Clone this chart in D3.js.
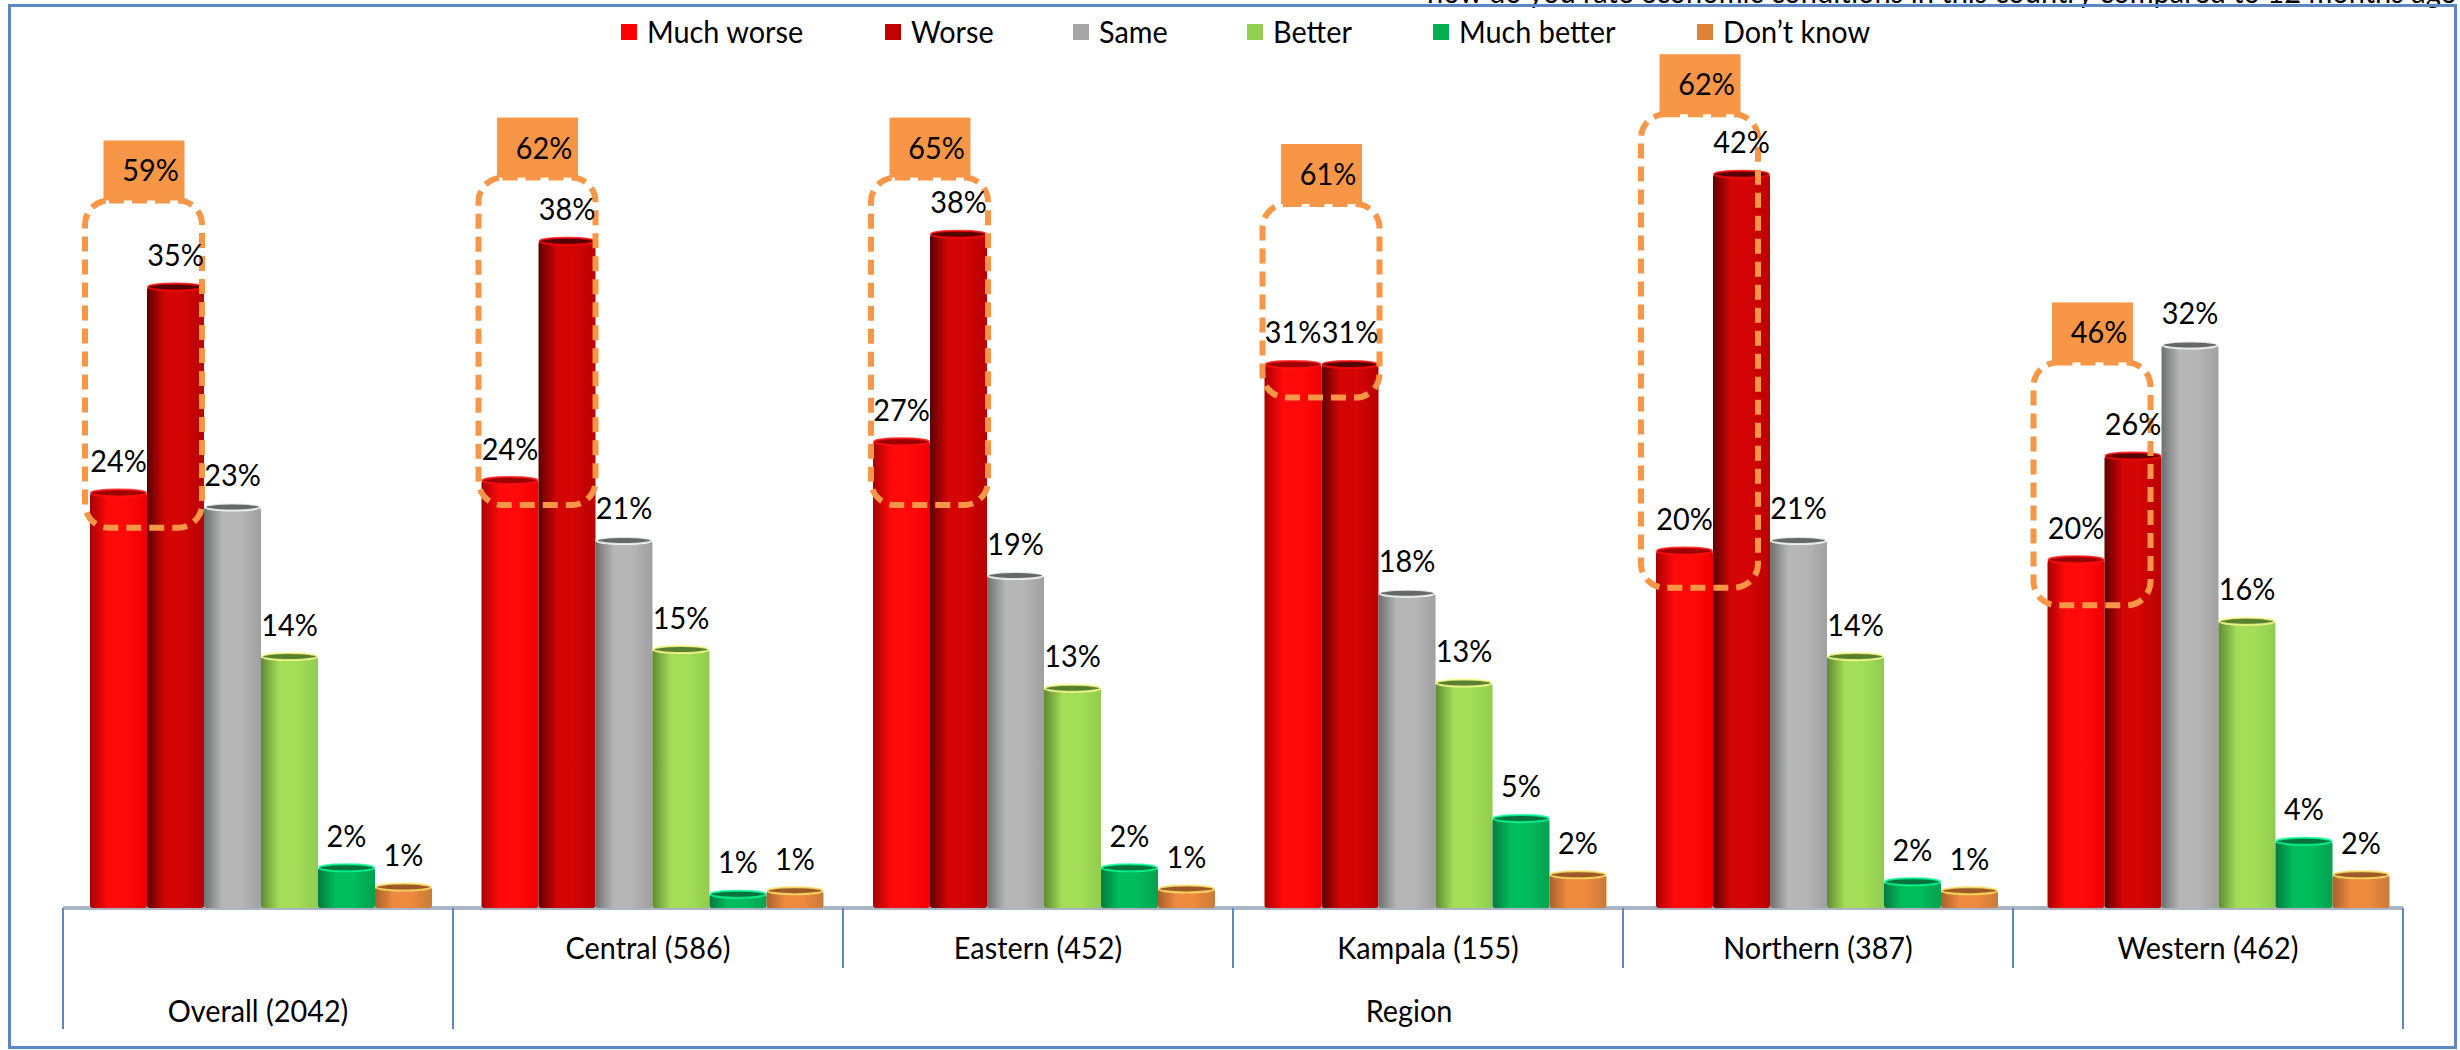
<!DOCTYPE html>
<html lang="en">
<head>
<meta charset="UTF-8">
<title>Economic conditions by region</title>
<script src="https://d3js.org/d3.v7.min.js"></script>
<style>
  html, body { margin: 0; padding: 0; background: #fff; overflow: hidden; }
  svg { display: block; }
  text { font-family: Lato, "Open Sans", sans-serif; font-size: 31px; fill: #000; }
</style>
</head>
<body>
<svg id="chart" width="2460" height="1050"></svg>
<script>
const categories = ["Overall (2042)", "Central (586)", "Eastern (452)", "Kampala (155)", "Northern (387)", "Western (462)"];
const seriesNames = ["Much worse", "Worse", "Same", "Better", "Much better", "Don\u2019t know"];

// one list per series, in category order (bar heights)
const muchWorse = [23.7, 24.4, 26.6, 31.0, 20.4, 19.9];
const worse = [35.4, 38.0, 38.4, 31.0, 41.8, 25.8];
const same = [22.9, 21.0, 19.0, 18.0, 21.0, 32.1];
const better = [14.4, 14.8, 12.6, 12.9, 14.4, 16.4];
const muchBetter = [2.4, 0.9, 2.4, 5.2, 1.6, 3.9];
const dontKnow = [1.3, 1.1, 1.2, 2.0, 1.1, 2.0];

// the orange "worse" totals and how far their dashed outlines reach on the y scale
const totals = ["59%", "62%", "65%", "61%", "62%", "46%"];
const outlineLow = [21.6, 22.9, 22.9, 29.0, 18.2, 17.2];
const outlineHigh = [40.2, 41.5, 41.5, 40.0, 45.1, 31.0];

const title = "how do you rate economic conditions in this country compared to 12 months ago";
const allSeries = [muchWorse, worse, same, better, muchBetter, dontKnow];

const swatch = ["#ff0000", "#c00000", "#a5a5a5", "#92d050", "#00b050", "#dd8239"];
// left edge, highlight, right edge of each cylinder
const shades = [
  ["#a80000", "#ff0a0a", "#f00000"],
  ["#5c0000", "#d30505", "#b80000"],
  ["#6e7070", "#b6b6b6", "#a0a0a0"],
  ["#5f8a32", "#a4de58", "#90cc4e"],
  ["#067a40", "#00bd5c", "#05a04f"],
  ["#a9602a", "#ee8a3e", "#c97b39"]
];
const legendSwatchX = [621, 885, 1073, 1247, 1433, 1697];
const orange = "#f79646";
const calloutNudge = [0, 2, 3, 3, -10, -9];

const svg = d3.select("#chart");

const baseY = 908;
const y = d3.scaleLinear().domain([0, 50]).range([baseY, 28]);
const sepX = d3.scaleBand().domain(categories).range([63, 2403]);
const x0 = d3.scaleBand().domain(categories).range([68, 2417]);
const x1 = d3.scaleBand().domain(seriesNames).range([22, 364]);

// gradients for the cylinders
const defs = svg.append("defs");
seriesNames.forEach((s, i) => {
  const g = defs.append("linearGradient").attr("id", "cyl" + i);
  g.append("stop").attr("offset", "0%").attr("stop-color", shades[i][0]);
  g.append("stop").attr("offset", "32%").attr("stop-color", shades[i][1]);
  g.append("stop").attr("offset", "62%").attr("stop-color", shades[i][1]);
  g.append("stop").attr("offset", "100%").attr("stop-color", shades[i][2]);
});

// cut off heading at the very top, sits behind the frame line
svg.append("text")
  .attr("class", "heading")
  .attr("x", 1427).attr("y", 3)
  .attr("textLength", 1030)
  .attr("lengthAdjust", "spacingAndGlyphs")
  .text(title);

// frame
svg.append("rect")
  .attr("x", 9.5).attr("y", 5.5)
  .attr("width", 2446).attr("height", 1042)
  .attr("fill", "none")
  .attr("stroke", "#5b87c5")
  .attr("stroke-width", 3);

// floor line
svg.append("rect")
  .attr("x", 63).attr("y", baseY - 2)
  .attr("width", 2340).attr("height", 4)
  .attr("fill", "#a9b4c4");

// category axis
const axis = svg.append("g")
  .attr("transform", `translate(0,${baseY})`)
  .call(d3.axisBottom(sepX).tickSize(0).tickPadding(30));
axis.select(".domain").remove();
axis.selectAll("text")
  .attr("font-size", null)
  .attr("font-family", null)
  .attr("dy", null)
  .attr("y", (d, i) => i === 0 ? 114 : 51);

// separators between the groups
const seps = sepX.domain().map(c => sepX(c)).concat([sepX.range()[1]]);
svg.selectAll(".sep")
  .data(seps)
  .enter().append("line")
  .attr("class", "sep")
  .attr("x1", d => d).attr("x2", d => d)
  .attr("y1", baseY)
  .attr("y2", (d, i) => (i === 0 || i === 1 || i === seps.length - 1) ? 1029 : 968)
  .attr("stroke", "#5b87c5")
  .attr("stroke-width", 2);

svg.append("text")
  .attr("x", 1409).attr("y", 1022)
  .attr("text-anchor", "middle")
  .text("Region");

// bars
const groups = svg.selectAll(".group")
  .data(categories)
  .enter().append("g")
  .attr("class", "group")
  .attr("transform", d => `translate(${x0(d)},0)`);

const rows = groups.selectAll(".bar")
  .data((c, ci) => seriesNames.map((s, si) => ({ s, si, v: allSeries[si][ci] })))
  .enter().append("g")
  .attr("class", "bar");

rows.append("rect")
  .attr("x", d => x1(d.s))
  .attr("y", d => y(d.v) + 2)
  .attr("width", x1.bandwidth())
  .attr("height", d => baseY - y(d.v) - 2)
  .attr("rx", 3)
  .attr("fill", d => `url(#cyl${d.si})`);

rows.append("ellipse")
  .attr("cx", d => x1(d.s) + x1.bandwidth() / 2)
  .attr("cy", d => y(d.v) + 2)
  .attr("rx", x1.bandwidth() / 2 - 1)
  .attr("ry", 3.5)
  .attr("fill", d => d3.color(shades[d.si][0]).darker(0.2))
  .attr("stroke", d => d3.color(shades[d.si][1]).brighter(1.4))
  .attr("stroke-opacity", 0.8)
  .attr("stroke-width", 2);

// dashed outlines round the two "worse" bars
const callout = svg.selectAll(".callout")
  .data(categories)
  .enter().append("g")
  .attr("class", "callout")
  .attr("transform", (d, i) => `translate(${x0(d) + x1(seriesNames[0]) - 5 + calloutNudge[i]},0)`);

const outlineW = x1.bandwidth() * 2 + 3;

callout.append("rect")
  .attr("x", 0)
  .attr("y", (d, i) => y(outlineHigh[i]))
  .attr("width", outlineW)
  .attr("height", (d, i) => y(outlineLow[i]) - y(outlineHigh[i]))
  .attr("rx", 24)
  .attr("fill", "none")
  .attr("stroke", orange)
  .attr("stroke-width", 6)
  .attr("stroke-dasharray", "15 8");

callout.append("rect")
  .attr("x", outlineW / 2 - 40)
  .attr("y", (d, i) => y(outlineHigh[i]) - 60)
  .attr("width", 81)
  .attr("height", 60)
  .attr("fill", orange);

callout.append("text")
  .attr("x", outlineW / 2 + 7)
  .attr("y", (d, i) => y(outlineHigh[i]) - 19)
  .attr("text-anchor", "middle")
  .text((d, i) => totals[i]);

// value labels go last so they stay on top of the outlines
const labels = svg.append("g");
categories.forEach((c, ci) => {
  seriesNames.forEach((s, si) => {
    const v = allSeries[si][ci];
    labels.append("text")
      .attr("x", x0(c) + x1(s) + x1.bandwidth() / 2)
      .attr("y", y(v) - 19)
      .attr("text-anchor", "middle")
      .text(d3.format(".0f")(v) + "%");
  });
});

// legend
const legend = svg.selectAll(".legend")
  .data(seriesNames)
  .enter().append("g")
  .attr("class", "legend")
  .attr("transform", (d, i) => `translate(${legendSwatchX[i]},24)`);

legend.append("rect")
  .attr("width", 16).attr("height", 16)
  .attr("fill", (d, i) => swatch[i]);

legend.append("text")
  .attr("x", 26).attr("y", 19)
  .text(d => d);

// Lato runs wider than the chart's original font, squeeze it a little
svg.selectAll("text:not(.heading)").each(function () {
  d3.select(this)
    .attr("textLength", this.getComputedTextLength() * 0.93)
    .attr("lengthAdjust", "spacingAndGlyphs");
});
</script>
</body>
</html>
